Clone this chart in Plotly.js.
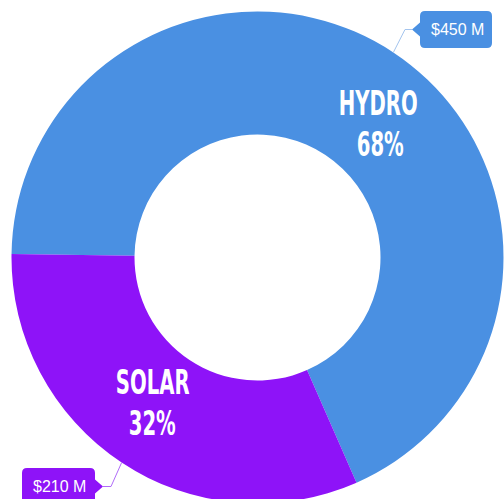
<!DOCTYPE html>
<html>
<head>
<meta charset="utf-8">
<script src="https://cdn.plot.ly/plotly-3.0.1.min.js"></script>
<style>
html,body{margin:0;padding:0;overflow:hidden;background:#fff;}
#chart{width:504px;height:504px;}
</style>
</head>
<body>
<div id="chart"></div>
<script>
const categories = ["Hydro", "Solar"];
const values = [450, 210];
const valueLabels = ["$450 M", "$210 M"];
const colors = ["#4a90e2", "#8e13f8"];
const leaderColors = ["#a3c4ee", "#b06cf9"];

const W = 504, H = 504;
const dom = {x: [11.5 / W, 503.5 / W], y: [1 - 503.5 / H, 1 - 11.5 / H]};
const rotation = 270.8;

const total = values.reduce((a, b) => a + b, 0);
const pct = values.map(v => Math.round(v / total * 100) + "%");

// pie geometry in pixels, derived from the domain
const cx = (dom.x[0] + dom.x[1]) / 2 * W;
const cy = (1 - (dom.y[0] + dom.y[1]) / 2) * H;
const R = Math.min((dom.x[1] - dom.x[0]) * W, (dom.y[1] - dom.y[0]) * H) / 2;

let cum = 0;
const edge = values.map(v => {
  const a = (rotation + (cum + v / 2) / total * 360) * Math.PI / 180;
  cum += v;
  return {x: cx + R * Math.sin(a), y: cy - R * Math.cos(a)};
});

const px = x => x / W;
const py = y => 1 - y / H;

// layout of labels and callouts (pixels)
const namePos = [{x: 378, y: 103}, {x: 152, y: 382}];
const pctPos = [{x: 380, y: 144}, {x: 152, y: 423}];
const boxes = [
  {x0: 420, x1: 492, y0: 11, y1: 48, side: "left"},
  {x0: 22, x1: 95, y0: 468, y1: 505, side: "right"}
];

const annotations = [];
const shapes = [];
categories.forEach((c, i) => {
  const labFont = {family: "DejaVu Sans, sans-serif", size: 34.5, color: "#ffffff", weight: "bold", stretch: "condensed"};
  annotations.push({xref: "paper", yref: "paper", x: px(namePos[i].x), y: py(namePos[i].y),
    text: c.toUpperCase(), showarrow: false, font: labFont, xanchor: "center", yanchor: "middle", height: 30});
  annotations.push({xref: "paper", yref: "paper", x: px(pctPos[i].x), y: py(pctPos[i].y),
    text: pct[i], showarrow: false, font: labFont, xanchor: "center", yanchor: "middle", height: 30});

  const b = boxes[i];
  const my = (b.y0 + b.y1) / 2;
  const r = 5;
  // rounded box with a pointer
  let path;
  if (b.side === "left") {
    path = `M${px(b.x0 + r)},${py(b.y0)} L${px(b.x1 - r)},${py(b.y0)} Q${px(b.x1)},${py(b.y0)} ${px(b.x1)},${py(b.y0 + r)} ` +
      `L${px(b.x1)},${py(b.y1 - r)} Q${px(b.x1)},${py(b.y1)} ${px(b.x1 - r)},${py(b.y1)} L${px(b.x0 + r)},${py(b.y1)} ` +
      `Q${px(b.x0)},${py(b.y1)} ${px(b.x0)},${py(b.y1 - r)} L${px(b.x0)},${py(my + 7)} L${px(b.x0 - 8)},${py(my)} L${px(b.x0)},${py(my - 7)} ` +
      `L${px(b.x0)},${py(b.y0 + r)} Q${px(b.x0)},${py(b.y0)} ${px(b.x0 + r)},${py(b.y0)} Z`;
  } else {
    path = `M${px(b.x0 + r)},${py(b.y0)} L${px(b.x1 - r)},${py(b.y0)} Q${px(b.x1)},${py(b.y0)} ${px(b.x1)},${py(b.y0 + r)} ` +
      `L${px(b.x1)},${py(my - 7)} L${px(b.x1 + 8)},${py(my)} L${px(b.x1)},${py(my + 7)} ` +
      `L${px(b.x1)},${py(b.y1 - r)} Q${px(b.x1)},${py(b.y1)} ${px(b.x1 - r)},${py(b.y1)} L${px(b.x0 + r)},${py(b.y1)} ` +
      `Q${px(b.x0)},${py(b.y1)} ${px(b.x0)},${py(b.y1 - r)} L${px(b.x0)},${py(b.y0 + r)} Q${px(b.x0)},${py(b.y0)} ${px(b.x0 + r)},${py(b.y0)} Z`;
  }
  shapes.push({type: "path", xref: "paper", yref: "paper", path: path, fillcolor: colors[i], line: {width: 0}});

  // leader line: slice edge -> elbow -> pointer tip
  const tipX = b.side === "left" ? b.x0 - 8 : b.x1 + 8;
  const elbowX = b.side === "left" ? tipX - 7 : tipX + 8;
  shapes.push({type: "path", xref: "paper", yref: "paper",
    path: `M${px(edge[i].x)},${py(edge[i].y)} L${px(elbowX)},${py(my)} L${px(tipX)},${py(my)}`,
    line: {color: leaderColors[i], width: 1}});

  annotations.push({xref: "paper", yref: "paper", x: px((b.x0 + b.x1) / 2 + 1), y: py(b.side === "left" ? my : 486),
    text: valueLabels[i], showarrow: false, xanchor: "center", yanchor: "middle",
    font: {family: "Liberation Sans, Arial, sans-serif", size: 16, color: "#ffffff"}});
});

const data = [{
  type: "pie",
  labels: categories,
  values: values,
  hole: 0.5,
  sort: false,
  direction: "clockwise",
  rotation: rotation,
  marker: {colors: colors, line: {width: 0}},
  textinfo: "none",
  hoverinfo: "label+value+percent",
  domain: dom,
  showlegend: false
}];

const layout = {
  width: W, height: H,
  margin: {l: 0, r: 0, t: 0, b: 0},
  paper_bgcolor: "#ffffff",
  showlegend: false,
  annotations: annotations,
  shapes: shapes
};

const condensed = categories.map(c => c.toUpperCase()).concat(pct);
Plotly.newPlot("chart", data, layout, {displayModeBar: false, staticPlot: true}).then(() => {
  const texts = Array.from(document.querySelectorAll("#chart .annotation-text"));
  const ref = texts.find(t => t.textContent === categories[0].toUpperCase());
  const k = ref ? 79 / ref.getComputedTextLength() : 0.7;
  texts.forEach(t => {
    if (condensed.includes(t.textContent)) {
      t.style.transformBox = "fill-box";
      t.style.transformOrigin = "center";
      t.style.transform = "scaleX(" + k.toFixed(3) + ")";
    }
  });
});
</script>
</body>
</html>
